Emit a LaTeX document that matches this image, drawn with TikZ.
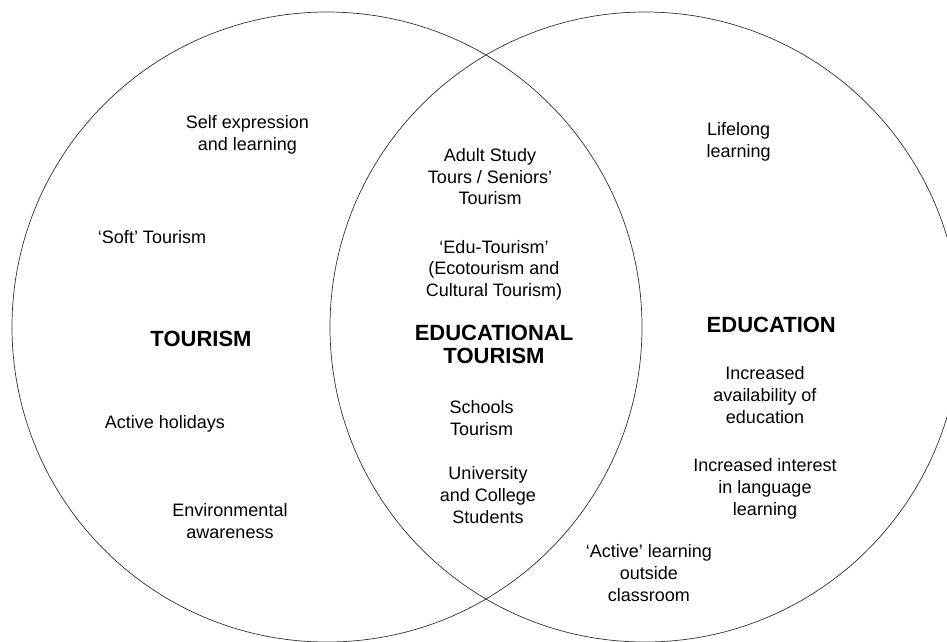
\documentclass[tikz,border=0pt]{standalone}
\usepackage{fontspec}
\setmainfont{Liberation Sans}
\begin{document}
\begin{tikzpicture}[x=1pt,y=-1pt,
  ring/.style={draw=black!80,line width=0.7pt},
  lbl/.style={font=\fontsize{18}{21.7}\selectfont,align=center,inner sep=0pt,text=black},
  head/.style={font=\bfseries\fontsize{22}{22.5}\selectfont,align=center,inner sep=0pt,text=black}]
  \useasboundingbox (0,0) rectangle (947,641);
  \clip (0,0) rectangle (947,641);
  \fill[white] (0,0) rectangle (947,641);

  % the two overlapping sets
  \coordinate (cl) at (327,327);
  \coordinate (cr) at (645,327);
  \draw[ring] (cl) circle[radius=315pt];
  \draw[ring] (cr) circle[radius=315pt];

  % left set: tourism
  \node[lbl] (selfexp) at (247.5,134.5) {Self expression\\and learning};
  \node[lbl] (soft) at (152,237) {‘Soft’ Tourism};
  \node[head] (tourism) at (201,339) {TOURISM};
  \node[lbl] (activehol) at (165,424) {Active holidays};
  \node[lbl] (env) at (230,521) {Environmental\\awareness};

  % overlap: educational tourism
  \node[lbl] (adult) at (490,176.7) {Adult Study\\Tours / Seniors’\\Tourism};
  \node[lbl] (edu) at (494,270.3) {‘Edu-Tourism’\\(Ecotourism and\\Cultural Tourism)};
  \node[head] (edtour) at (494,344.5) {EDUCATIONAL\\TOURISM};
  \node[lbl] (schools) at (481.7,418) {Schools\\Tourism};
  \node[lbl] (univ) at (488,495) {University\\and College\\Students};

  % right set: education
  \node[lbl] (lifelong) at (738.7,141.7) {Lifelong\\learning};
  \node[head] (education) at (771.3,325) {EDUCATION};
  \node[lbl] (avail) at (765,395) {Increased\\availability of\\education};
  \node[lbl] (interest) at (765,489) {Increased interest\\in language\\learning};
  \node[lbl] (activelearn) at (648.8,573) {‘Active’ learning\\outside\\classroom};
\end{tikzpicture}
\end{document}
